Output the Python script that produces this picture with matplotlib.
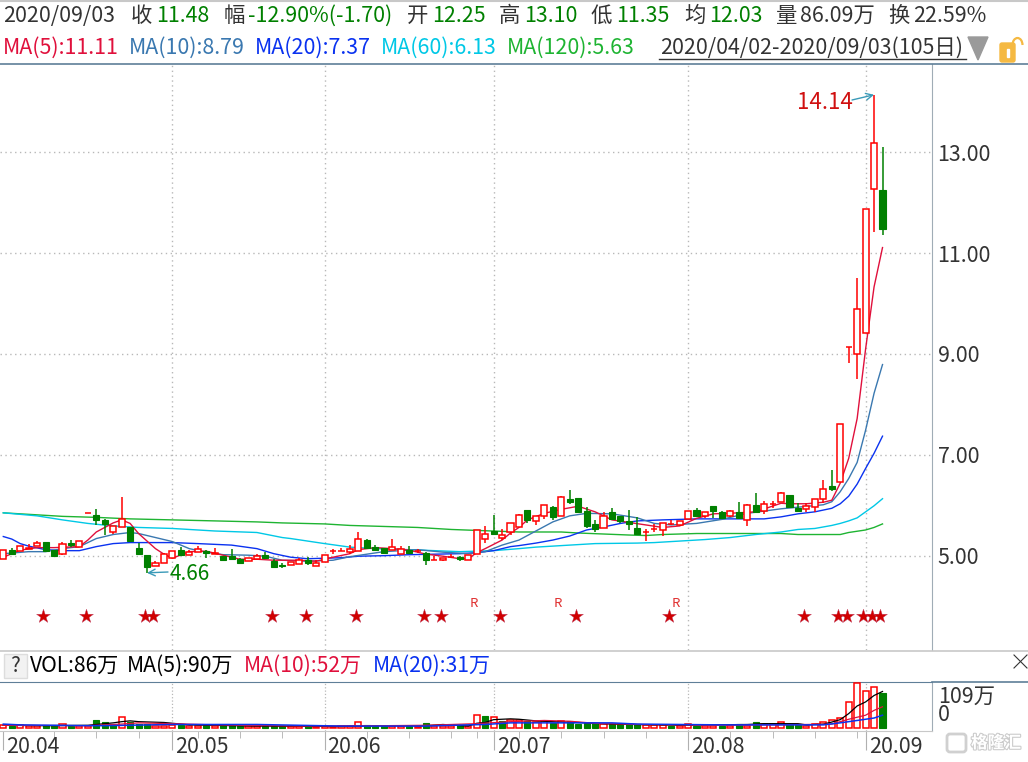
# -*- coding: utf-8 -*-

import matplotlib
matplotlib.use("Agg")
import matplotlib.pyplot as plt
import matplotlib.patheffects as pe
from matplotlib.patches import Rectangle, Polygon, Arc, FancyBboxPatch

plt.rcParams['font.family'] = ['Noto Sans CJK SC', 'DejaVu Sans']

# daily candles
opens = [4.93, 5.12, 5.10, 5.13, 5.20, 5.28, 5.11, 5.04, 5.25, 5.18,
         5.84, 5.81, 5.71, 5.47, 5.56, 5.56, 5.15, 5.01, 4.80, 4.85,
         4.95, 5.11, 5.02, 5.08, 5.10, 5.03, 5.00, 4.99, 4.93, 4.89,
         4.93, 5.01, 4.89, 4.81, 4.81, 4.83, 4.91, 4.80, 4.87, 5.09,
         5.10, 5.08, 5.10, 5.32, 5.18, 5.15, 5.11, 5.04, 5.12, 5.10,
         5.05, 4.91, 4.91, 4.97, 4.97, 4.91, 5.03, 5.34, 5.49, 5.36,
         5.47, 5.57, 5.90, 5.68, 5.79, 5.96, 5.79, 6.12, 6.14, 5.88,
         5.63, 5.55, 5.87, 5.79, 5.69, 5.55, 5.46, 5.53, 5.50, 5.62,
         5.61, 5.73, 5.90, 5.79, 5.98, 5.86, 5.78, 5.87, 5.71, 6.00,
         5.89, 6.03, 6.07, 6.20, 5.95, 5.93, 5.97, 6.12, 6.38, 6.46,
         9.13, 8.99, 9.42, 12.27, 12.25]
highs = [5.12, 5.16, 5.20, 5.24, 5.30, 5.28, 5.11, 5.28, 5.32, 5.30,
         5.84, 5.92, 5.72, 5.59, 6.16, 5.56, 5.26, 5.01, 4.89, 5.06,
         5.10, 5.18, 5.12, 5.20, 5.12, 5.16, 5.00, 5.14, 4.96, 4.96,
         5.04, 5.07, 4.94, 4.86, 4.88, 4.95, 4.98, 4.91, 5.02, 5.13,
         5.16, 5.22, 5.46, 5.34, 5.22, 5.15, 5.34, 5.20, 5.19, 5.14,
         5.08, 4.99, 4.95, 5.03, 4.99, 5.01, 5.51, 5.58, 5.81, 5.52,
         5.64, 5.83, 5.90, 5.78, 6.00, 5.98, 6.18, 6.30, 6.14, 5.96,
         5.71, 5.87, 5.94, 5.79, 5.90, 5.77, 5.52, 5.63, 5.64, 5.71,
         5.68, 5.88, 5.94, 5.86, 5.98, 5.88, 5.90, 6.06, 6.02, 6.24,
         6.08, 6.09, 6.26, 6.20, 6.04, 6.04, 6.12, 6.50, 6.70, 7.61,
         9.13, 10.51, 11.87, 14.14, 13.10]
lows = [4.93, 5.03, 5.10, 5.13, 5.20, 5.09, 5.00, 5.01, 5.18, 5.18,
        5.84, 5.61, 5.41, 5.44, 5.56, 5.30, 5.04, 4.66, 4.79, 4.85,
        4.95, 4.99, 5.02, 5.07, 4.96, 5.03, 4.92, 4.94, 4.83, 4.89,
        4.93, 4.94, 4.78, 4.76, 4.81, 4.83, 4.82, 4.80, 4.87, 5.04,
        5.10, 5.03, 5.10, 5.15, 5.11, 5.06, 5.11, 5.04, 5.06, 5.06,
        4.82, 4.91, 4.89, 4.97, 4.89, 4.91, 5.03, 5.26, 5.41, 5.31,
        5.42, 5.57, 5.65, 5.61, 5.73, 5.71, 5.79, 6.02, 5.87, 5.55,
        5.47, 5.55, 5.71, 5.64, 5.51, 5.41, 5.29, 5.46, 5.40, 5.60,
        5.59, 5.73, 5.77, 5.75, 5.74, 5.74, 5.76, 5.74, 5.59, 5.84,
        5.83, 5.95, 6.07, 5.97, 5.89, 5.87, 5.87, 6.04, 6.29, 6.46,
        8.83, 8.50, 9.42, 11.41, 11.35]
closes = [5.12, 5.04, 5.20, 5.16, 5.26, 5.09, 5.00, 5.24, 5.22, 5.30,
          5.84, 5.71, 5.62, 5.59, 5.72, 5.30, 5.04, 4.77, 4.85, 5.03,
          5.10, 5.01, 5.08, 5.14, 5.05, 5.06, 4.92, 4.94, 4.86, 4.96,
          4.99, 4.95, 4.78, 4.79, 4.88, 4.91, 4.85, 4.86, 5.02, 5.09,
          5.10, 5.14, 5.34, 5.15, 5.12, 5.06, 5.18, 5.13, 5.06, 5.10,
          4.92, 4.91, 4.95, 4.97, 4.93, 5.01, 5.51, 5.44, 5.43, 5.42,
          5.64, 5.80, 5.71, 5.78, 6.00, 5.77, 6.16, 6.07, 5.87, 5.59,
          5.52, 5.78, 5.72, 5.68, 5.63, 5.43, 5.46, 5.53, 5.64, 5.62,
          5.68, 5.88, 5.79, 5.86, 5.89, 5.75, 5.88, 5.75, 6.00, 5.87,
          6.02, 6.03, 6.24, 5.97, 5.89, 5.99, 6.12, 6.32, 6.32, 7.61,
          9.13, 9.89, 11.87, 13.18, 11.48]

# moving averages, only where they were read: (day index, value)
ma5_days = [0, 2, 4, 6, 9, 10, 11, 13, 14, 15, 16, 18, 19, 20, 22, 24, 26, 28, 30,
            32, 35, 37, 39, 41, 42, 44, 46, 48, 50, 52, 54, 55, 56, 57, 59, 60, 61,
            62, 64, 66, 68, 70, 72, 74, 76, 78, 80, 82, 84, 87, 89, 92, 93, 95, 97,
            98, 99, 100, 101, 102, 103, 104]
ma5_vals = [4.97, 5.11, 5.16, 5.16, 5.18, 5.31, 5.47, 5.65, 5.71, 5.64, 5.44, 5.14,
            5.03, 4.95, 5.08, 5.09, 5.01, 4.93, 4.93, 4.91, 4.91, 4.89, 4.97, 5.04,
            5.12, 5.16, 5.14, 5.11, 5.03, 4.99, 4.94, 4.94, 5.06, 5.14, 5.31, 5.45,
            5.56, 5.71, 5.84, 5.92, 5.98, 5.87, 5.71, 5.66, 5.61, 5.56, 5.59, 5.74,
            5.83, 5.85, 5.87, 6.04, 6.03, 6.03, 6.06, 6.10, 6.44, 6.93, 7.72, 9.10,
            10.33, 11.11]
ma10_days = [0, 3, 5, 7, 9, 10, 11, 13, 15, 16, 18, 20, 22, 24, 26, 29, 31, 33, 36,
             39, 41, 43, 45, 49, 52, 55, 57, 59, 61, 63, 65, 67, 69, 72, 75, 77, 79,
             82, 85, 88, 92, 97, 98, 99, 100, 101, 102, 103, 104]
ma10_vals = [5.04, 5.08, 5.08, 5.14, 5.18, 5.26, 5.34, 5.42, 5.46, 5.44, 5.36, 5.28,
             5.14, 5.07, 5.02, 5.01, 4.99, 4.91, 4.89, 4.91, 4.98, 5.03, 5.08, 5.12,
             5.07, 5.04, 5.08, 5.21, 5.31, 5.49, 5.67, 5.79, 5.84, 5.83, 5.75, 5.64,
             5.61, 5.64, 5.72, 5.84, 5.93, 6.01, 6.07, 6.27, 6.53, 6.85, 7.49, 8.22,
             8.79]
ma20_days = [0, 1, 2, 3, 5, 7, 9, 10, 11, 13, 15, 20, 23, 27, 30, 32, 34, 36, 38, 40,
             42, 45, 48, 51, 54, 56, 58, 60, 61, 63, 65, 67, 69, 71, 73, 75, 78, 82,
             86, 90, 91, 92, 94, 96, 98, 99, 100, 101, 102, 103, 104]
ma20_vals = [5.38, 5.33, 5.24, 5.19, 5.12, 5.10, 5.10, 5.14, 5.18, 5.24, 5.26, 5.26,
             5.24, 5.21, 5.14, 5.04, 4.97, 4.94, 4.95, 4.96, 4.99, 5.00, 5.02, 5.03,
             5.04, 5.06, 5.10, 5.18, 5.20, 5.25, 5.31, 5.39, 5.51, 5.57, 5.64, 5.69,
             5.71, 5.73, 5.73, 5.73, 5.75, 5.77, 5.83, 5.87, 5.94, 6.03, 6.18, 6.42,
             6.73, 7.03, 7.37]
ma60_days = [0, 2, 4, 7, 10, 13, 16, 20, 25, 30, 33, 34, 36, 38, 41, 44, 48, 51, 54,
             58, 61, 63, 66, 70, 75, 77, 80, 83, 86, 89, 92, 94, 96, 98, 99, 100, 101,
             102, 103, 104]
ma60_vals = [5.85, 5.82, 5.79, 5.71, 5.64, 5.59, 5.56, 5.54, 5.49, 5.46, 5.36, 5.34,
             5.29, 5.24, 5.17, 5.14, 5.12, 5.10, 5.08, 5.10, 5.14, 5.17, 5.20, 5.24,
             5.25, 5.26, 5.29, 5.32, 5.36, 5.42, 5.47, 5.52, 5.54, 5.60, 5.64, 5.69,
             5.75, 5.87, 5.99, 6.13]
ma120_days = [0, 4, 7, 11, 15, 20, 25, 30, 33, 38, 41, 45, 49, 53, 61, 63, 66, 68, 71,
              74, 76, 78, 82, 92, 94, 99, 100, 102, 103, 104]
ma120_vals = [5.85, 5.81, 5.78, 5.76, 5.73, 5.71, 5.69, 5.67, 5.65, 5.63, 5.60, 5.58,
              5.56, 5.52, 5.47, 5.47, 5.47, 5.45, 5.43, 5.41, 5.40, 5.42, 5.44, 5.44,
              5.42, 5.42, 5.46, 5.51, 5.56, 5.63]

# volume in 万, colour of the volume bar does not always follow the candle
volumes = [6, 5, 7, 4, 5, 6, 6, 8, 5, 4,
           4, 19, 14, 6, 26, 15, 8, 9, 3, 5,
           6, 7, 3, 5, 6, 4, 6, 6, 5, 4,
           3, 5, 4, 3, 3, 3, 4, 2, 4, 2,
           3, 4, 14, 6, 5, 5, 4, 4, 4, 2,
           12, 3, 3, 3, 6, 3, 31, 29, 26, 17,
           18, 18, 16, 14, 16, 12, 16, 16, 9, 12,
           11, 9, 8, 8, 8, 8, 7, 7, 6, 5,
           5, 8, 5, 5, 5, 5, 5, 8, 5, 14,
           8, 8, 13, 10, 10, 5, 8, 15, 18, 23,
           63, 110, 90, 100, 86]
vol_green = [1, 5, 6, 8, 11, 12, 13, 15, 16, 17, 21, 24, 26, 27, 28, 31, 32, 33, 36,
             43, 44, 45, 48, 50, 54, 57, 59, 62, 65, 67, 68, 69, 70, 72, 73, 74, 75,
             79, 82, 85, 87, 89, 93, 94, 104]
vol_ma5_days = [0, 5, 10, 11, 13, 14, 15, 16, 19, 22, 30, 40, 45, 50, 52, 55, 56, 57, 58,
                60, 61, 63, 65, 68, 72, 80, 88, 90, 94, 95, 97, 98, 99, 100, 101, 102, 103, 104]
vol_ma5_vals = [6, 5, 6, 8, 12, 15, 17, 15, 13, 7, 4, 3, 5, 5, 8, 4, 11, 13, 20,
                22, 21, 17, 15, 13, 9, 6, 8, 10, 10, 7, 9, 14, 20, 35, 54, 64, 80, 90]
vol_ma10_days = [0, 10, 14, 16, 20, 25, 35, 45, 50, 56, 60, 64, 67, 70, 75, 85, 95, 98,
                 100, 102, 103, 104]
vol_ma10_vals = [6, 5, 9, 12, 10, 7, 4, 5, 6, 10, 15, 18, 16, 11, 8, 6, 8, 9, 21, 31, 43, 52]
vol_ma20_days = [0, 2, 10, 12, 20, 30, 40, 50, 55, 57, 60, 72, 75, 85, 90, 97, 99, 101, 103, 104]
vol_ma20_vals = [9, 7, 5, 5, 8, 8, 4, 4, 7, 8, 12, 12, 9, 7, 7, 7, 12, 18, 24, 31]

price_ticks = [5, 7, 9, 11, 13]
month_days = [0, 20, 38, 58, 81, 102]
month_labels = ['20.04', '20.05', '20.06', '20.07', '20.08', '20.09']
minor_days = [6, 11, 16, 23, 28, 33, 43, 48, 53, 56, 61, 66, 71, 76, 86, 91, 96, 101]
star_days = [5, 10, 17, 18, 32, 36, 42, 50, 52, 59, 68, 79, 95, 99, 100, 102, 103, 104]
r_days = [56, 66, 80]

RED = '#ff0000'
GREEN = '#008000'
C_MA5 = '#e0103c'
C_MA10 = '#3a78b0'
C_MA20 = '#0a32f0'
C_MA60 = '#00c8e6'
C_MA120 = '#1eb432'
DARK = '#333333'
LINE = '#5f7f98'
GRID = '#b8b8b8'

W, H = 1028, 762
STEP = 8.454
X0 = 3.3

fig = plt.figure(figsize=(W / 100, H / 100), dpi=100, facecolor='white')


def pxAxes(left, top, right, bottom):
    return fig.add_axes([left / W, 1 - bottom / H, (right - left) / W, (bottom - top) / H])


def drawBars(ax, x, bottom, height, width, green):
    if green:
        ax.bar(x, height, width, bottom=bottom, color=GREEN, edgecolor=GREEN, linewidth=0.8, zorder=3)
    else:
        ax.bar(x, height, width, bottom=bottom, facecolor='white', edgecolor=RED, linewidth=1.1, zorder=3)


days = list(range(len(closes)))
xlim = (-X0 / STEP, (932 - X0) / STEP)

# ---- price panel
ax = pxAxes(0, 64, 932, 650)
ax.set_xlim(*xlim)
ax.set_ylim(3.13, 14.75)
for s in ['top', 'left', 'bottom']:
    ax.spines[s].set_visible(False)
ax.spines['right'].set_color('#a0acb6')
ax.set_xticks(month_days[1:])
ax.tick_params(axis='x', length=0, labelbottom=False)
ax.grid(True, linestyle=(0, (1, 2.5)), color=GRID, linewidth=1)
ax.set_axisbelow(True)
ax.yaxis.tick_right()
ax.set_yticks(price_ticks)
ax.set_yticklabels(['%.2f' % t for t in price_ticks], fontsize=15.4, color=DARK)
ax.tick_params(axis='y', length=0, pad=4)

for d, v, c in [(ma120_days, ma120_vals, C_MA120), (ma60_days, ma60_vals, C_MA60),
                (ma20_days, ma20_vals, C_MA20), (ma10_days, ma10_vals, C_MA10),
                (ma5_days, ma5_vals, C_MA5)]:
    ax.plot(d, v, color=c, linewidth=1.0, zorder=2)

for i in days:
    green = closes[i] < opens[i]
    c = GREEN if green else RED
    ax.vlines(i, lows[i], highs[i], color=c, linewidth=1.1, zorder=2.5)
    drawBars(ax, i, min(opens[i], closes[i]), abs(closes[i] - opens[i]), 0.72, green)

ax.scatter([d - 0.25 for d in star_days], [3.80] * len(star_days), marker='*', s=110,
           color='#d00000', edgecolor='#c04060', linewidth=0.3, zorder=4)
for d in r_days:
    ax.text(d - 0.4, 4.06, 'R', color='#e03030', fontsize=9.5, ha='center', va='center', zorder=4)

ax.annotate('14.14', xy=(103, 14.14), xytext=(-77, -8), textcoords='offset pixels',
            color='#d01010', fontsize=16, ha='left', va='center', zorder=5)
ax.annotate('', xy=(103, 14.14), xytext=(852, H - 100), textcoords='figure pixels',
            arrowprops=dict(arrowstyle='->', color='#3a9ab8', linewidth=1, shrinkA=0, shrinkB=0,
                            mutation_scale=12), zorder=5)
ax.annotate('4.66', xy=(17, 4.66), xytext=(23, -1), textcoords='offset pixels',
            color=GREEN, fontsize=15, ha='left', va='center', zorder=5)
ax.annotate('', xy=(17, 4.66), xytext=(168, H - 572), textcoords='figure pixels',
            arrowprops=dict(arrowstyle='->', color='#3a9ab8', linewidth=1, shrinkA=0, shrinkB=0,
                            mutation_scale=12), zorder=5)

# ---- volume panel
vax = pxAxes(0, 682, 932, 731)
vax.set_xlim(*xlim)
vax.set_ylim(-8.2, 113.5)
vax.spines['left'].set_visible(False)
vax.spines['top'].set_color(LINE)
vax.spines['bottom'].set_color('#c8c8c8')
vax.spines['right'].set_color('#a0acb6')
vax.set_yticks([])
vax.set_xticks(month_days)
vax.set_xticks(minor_days, minor=True)
vax.set_xticklabels([])
vax.tick_params(axis='x', which='major', length=14, color='#b0b0b0')
vax.tick_params(axis='x', which='minor', length=5, color='#b0b0b0')
for d in month_days[1:]:
    vax.axvline(d, linestyle=':', color=GRID, linewidth=0.9, zorder=1)

for i in days:
    drawBars(vax, i, 0, volumes[i], 0.72, i in vol_green)

vax.plot(vol_ma5_days, vol_ma5_vals, color='black', linewidth=0.9, zorder=4)
vax.plot(vol_ma10_days, vol_ma10_vals, color=C_MA5, linewidth=0.9, zorder=4)
vax.plot(vol_ma20_days, vol_ma20_vals, color=C_MA20, linewidth=1.1, zorder=4)

for d, lab in zip(month_days, month_labels):
    vax.annotate(lab, xy=(d, 0), xycoords=vax.get_xaxis_transform(), xytext=(3, -16),
                 textcoords='offset pixels', fontsize=15.4, color=DARK, ha='left', va='center')

# ---- overlay in pixels for the header rows and icons
ov = fig.add_axes([0, 0, 1, 1], facecolor='none')
ov.set_xlim(0, W)
ov.set_ylim(H, 0)
ov.axis('off')


def put(x, y, s, color=DARK, size=15.4):
    ov.text(x, y, s, color=color, fontsize=size, ha='left', va='center')


row1 = [(3, '2020/09/03', DARK), (131, '收', DARK), (156, '11.48', GREEN), (224, '幅', DARK),
        (248, '-12.90%(-1.70)', GREEN), (407, '开', DARK), (432, '12.25', GREEN), (499, '高', DARK),
        (524, '13.10', GREEN), (591, '低', DARK), (616, '11.35', GREEN), (684, '均', DARK),
        (709, '12.03', GREEN), (776, '量', DARK), (800, '86.09万', DARK), (888, '换', DARK),
        (913, '22.59%', DARK)]
for x, s, c in row1:
    put(x, 16, s, c)

row2 = [(3, 'MA(5):11.11', C_MA5), (129, 'MA(10):8.79', C_MA10), (255, 'MA(20):7.37', C_MA20),
        (381, 'MA(60):6.13', C_MA60), (507, 'MA(120):5.63', C_MA120)]
for x, s, c in row2:
    put(x, 48, s, c)
put(660, 48, '2020/04/02-2020/09/03(105日)', DARK)
ov.plot([659, 966], [59, 59], color=DARK, linewidth=1)

ov.plot([0, W], [64, 64], color=LINE, linewidth=1.2)
ov.plot([0, W], [1, 1], color='#c8c8c8', linewidth=1.5)
ov.plot([0, W], [651, 651], color='#c8c8c8', linewidth=1.2)
ov.plot([932, W], [681.5, 681.5], color=LINE, linewidth=1.2)

# triangle, padlock
ov.add_patch(Polygon([[968, 37], [988, 37], [978, 60]], closed=True, color='#9a9a9a'))
ov.add_patch(FancyBboxPatch((1000, 43), 15, 19, boxstyle='round,pad=0,rounding_size=2', color='#f5b942'))
ov.add_patch(Rectangle((1006.5, 49), 2, 8, color='white'))
ov.add_patch(Arc((1017.5, 45), 10, 14, theta1=180, theta2=360, color='#f5b942', linewidth=1.6))

# volume header
ov.add_patch(Rectangle((4, 654), 23, 24, facecolor='#f2f2f2', edgecolor='#dddddd', linewidth=1))
put(10, 666, '?', DARK, 15)
put(30, 666, 'VOL:86万', 'black', 15.2)
put(127, 666, 'MA(5):90万', 'black', 15.2)
put(244, 666, 'MA(10):52万', C_MA5, 15.2)
put(373, 666, 'MA(20):31万', C_MA20, 15.2)
ov.plot([1014, 1027], [655, 668], color=DARK, linewidth=0.8)
ov.plot([1014, 1027], [668, 655], color=DARK, linewidth=0.8)

put(938, 697, '109万', DARK, 15.4)
put(938, 715, '0', DARK, 15.4)

# watermark
ov.add_patch(FancyBboxPatch((947, 734), 19, 18, boxstyle='round,pad=0,rounding_size=3',
                            facecolor='white', edgecolor='#d0d0d0', linewidth=2))
ov.text(971, 743, '格隆汇', color='white', fontsize=12, fontweight='bold', ha='left', va='center',
        path_effects=[pe.withStroke(linewidth=1.6, foreground='#cccccc')])

fig.savefig('out.png', dpi=100)
